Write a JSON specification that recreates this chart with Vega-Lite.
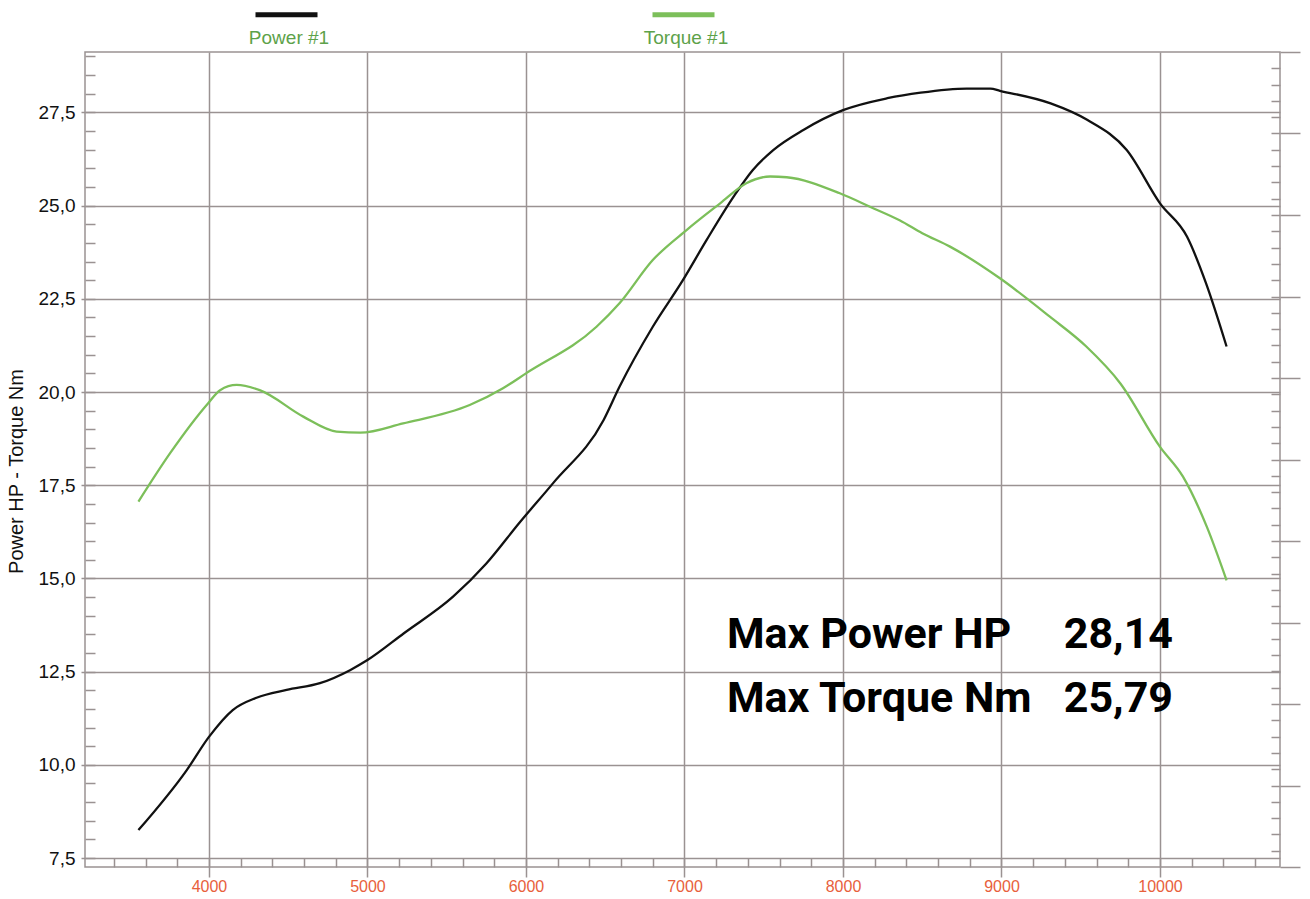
{
  "$schema": "https://vega.github.io/schema/vega-lite/v6.json",
  "width": 1195,
  "height": 815,
  "autosize": "none",
  "padding": {"left": 85, "top": 52, "right": 30, "bottom": 32},
  "background": "white",
  "config": {"view": {"stroke": "#9a9292", "strokeWidth": 1.5}, "font": "Liberation Sans"},
  "data": {"values": [
    {"rpm": 3555, "value": 8.25, "series": "Power #1"},
    {"rpm": 3860, "value": 9.86, "series": "Power #1"},
    {"rpm": 4000, "value": 10.75, "series": "Power #1"},
    {"rpm": 4150, "value": 11.47, "series": "Power #1"},
    {"rpm": 4300, "value": 11.8, "series": "Power #1"},
    {"rpm": 4490, "value": 12.01, "series": "Power #1"},
    {"rpm": 4700, "value": 12.19, "series": "Power #1"},
    {"rpm": 4890, "value": 12.54, "series": "Power #1"},
    {"rpm": 5000, "value": 12.81, "series": "Power #1"},
    {"rpm": 5230, "value": 13.53, "series": "Power #1"},
    {"rpm": 5540, "value": 14.51, "series": "Power #1"},
    {"rpm": 5750, "value": 15.4, "series": "Power #1"},
    {"rpm": 5960, "value": 16.5, "series": "Power #1"},
    {"rpm": 6170, "value": 17.55, "series": "Power #1"},
    {"rpm": 6490, "value": 19.25, "series": "Power #1"},
    {"rpm": 6590, "value": 20.14, "series": "Power #1"},
    {"rpm": 6800, "value": 21.75, "series": "Power #1"},
    {"rpm": 6990, "value": 23.0, "series": "Power #1"},
    {"rpm": 7140, "value": 24.08, "series": "Power #1"},
    {"rpm": 7310, "value": 25.24, "series": "Power #1"},
    {"rpm": 7430, "value": 25.95, "series": "Power #1"},
    {"rpm": 7560, "value": 26.49, "series": "Power #1"},
    {"rpm": 7750, "value": 27.03, "series": "Power #1"},
    {"rpm": 8000, "value": 27.56, "series": "Power #1"},
    {"rpm": 8280, "value": 27.88, "series": "Power #1"},
    {"rpm": 8490, "value": 28.03, "series": "Power #1"},
    {"rpm": 8780, "value": 28.14, "series": "Power #1"},
    {"rpm": 8930, "value": 28.14, "series": "Power #1"},
    {"rpm": 8990, "value": 28.08, "series": "Power #1"},
    {"rpm": 9310, "value": 27.74, "series": "Power #1"},
    {"rpm": 9540, "value": 27.3, "series": "Power #1"},
    {"rpm": 9790, "value": 26.49, "series": "Power #1"},
    {"rpm": 10000, "value": 25.06, "series": "Power #1"},
    {"rpm": 10170, "value": 24.17, "series": "Power #1"},
    {"rpm": 10290, "value": 22.92, "series": "Power #1"},
    {"rpm": 10420, "value": 21.22, "series": "Power #1"},
    {"rpm": 3555, "value": 17.06, "series": "Torque #1"},
    {"rpm": 3755, "value": 18.36, "series": "Torque #1"},
    {"rpm": 3995, "value": 19.7, "series": "Torque #1"},
    {"rpm": 4070, "value": 20.05, "series": "Torque #1"},
    {"rpm": 4175, "value": 20.19, "series": "Torque #1"},
    {"rpm": 4320, "value": 20.05, "series": "Torque #1"},
    {"rpm": 4595, "value": 19.34, "series": "Torque #1"},
    {"rpm": 4805, "value": 18.94, "series": "Torque #1"},
    {"rpm": 4955, "value": 18.91, "series": "Torque #1"},
    {"rpm": 5225, "value": 19.16, "series": "Torque #1"},
    {"rpm": 5645, "value": 19.65, "series": "Torque #1"},
    {"rpm": 5855, "value": 20.1, "series": "Torque #1"},
    {"rpm": 6000, "value": 20.5, "series": "Torque #1"},
    {"rpm": 6445, "value": 21.75, "series": "Torque #1"},
    {"rpm": 6590, "value": 22.38, "series": "Torque #1"},
    {"rpm": 6800, "value": 23.54, "series": "Torque #1"},
    {"rpm": 7015, "value": 24.35, "series": "Torque #1"},
    {"rpm": 7225, "value": 25.06, "series": "Torque #1"},
    {"rpm": 7390, "value": 25.6, "series": "Torque #1"},
    {"rpm": 7540, "value": 25.78, "series": "Torque #1"},
    {"rpm": 7645, "value": 25.76, "series": "Torque #1"},
    {"rpm": 7980, "value": 25.33, "series": "Torque #1"},
    {"rpm": 8170, "value": 24.97, "series": "Torque #1"},
    {"rpm": 8360, "value": 24.6, "series": "Torque #1"},
    {"rpm": 8500, "value": 24.26, "series": "Torque #1"},
    {"rpm": 8675, "value": 23.9, "series": "Torque #1"},
    {"rpm": 8990, "value": 23.05, "series": "Torque #1"},
    {"rpm": 9305, "value": 22.02, "series": "Torque #1"},
    {"rpm": 9535, "value": 21.22, "series": "Torque #1"},
    {"rpm": 9750, "value": 20.23, "series": "Torque #1"},
    {"rpm": 10000, "value": 18.53, "series": "Torque #1"},
    {"rpm": 10145, "value": 17.73, "series": "Torque #1"},
    {"rpm": 10295, "value": 16.39, "series": "Torque #1"},
    {"rpm": 10420, "value": 14.95, "series": "Torque #1"}
  ]},
  "resolve": {"scale": {"y": "independent"}, "axis": {"x": "independent", "y": "independent"}},
  "layer": [
    {
      "layer": [
        {
          "mark": {"type": "line", "interpolate": "monotone", "strokeWidth": 2.3},
          "encoding": {
            "x": {"field": "rpm", "type": "quantitative",
              "scale": {"domain": [3218, 10757], "nice": false, "zero": false},
              "axis": {"orient": "bottom", "values": [4000, 5000, 6000, 7000, 8000, 9000, 10000], "format": "d", "title": null,
                "grid": true, "gridColor": "#9a9292", "gridWidth": 1.5, "domain": false,
                "tickSize": 10, "tickColor": "#9a9292", "tickWidth": 1.5,
                "labelColor": "#e8603c", "labelFontSize": 16, "labelPadding": 1}},
            "y": {"field": "value", "type": "quantitative",
              "scale": {"domain": [7.26, 29.12], "nice": false, "zero": false},
              "axis": {"orient": "left", "values": [7.5, 10, 12.5, 15, 17.5, 20, 22.5, 25, 27.5],
                "labelExpr": "replace(format(datum.value, '.1f'), '.', ',')",
                "title": "Power HP - Torque Nm", "titleFontSize": 20, "titleFontWeight": "normal", "titleColor": "#111111",
                "titleX": -59, "titleY": 419,
                "grid": true, "gridColor": "#9a9292", "gridWidth": 1.5, "domain": false,
                "tickSize": 4, "tickColor": "#9a9292", "tickWidth": 1.5,
                "labelColor": "#111111", "labelFontSize": 19, "labelPadding": 6}},
            "color": {"field": "series", "type": "nominal",
              "scale": {"domain": ["Power #1", "Torque #1"], "range": ["#111111", "#7cbf5a"]},
              "legend": {"orient": "none", "legendX": 168, "legendY": -71, "direction": "horizontal", "title": null,
                "symbolType": "stroke", "symbolSize": 3844, "symbolStrokeWidth": 5,
                "labelColor": "#5da24a", "labelFontSize": 19, "labelAlign": "center", "labelOffset": -31, "labelBaseline": "top",
                "columnPadding": 312,
                "encode": {"labels": {"update": {"dy": {"value": 14}}}}}}
          }
        },
        {
          "data": {"values": [{}]},
          "mark": {"type": "text", "align": "left", "baseline": "alphabetic", "font": "Roboto", "fontWeight": "bold", "fontSize": 43, "color": "#000000"},
          "encoding": {"x": {"datum": 7268, "type": "quantitative"}, "y": {"datum": 13.13, "type": "quantitative"}, "text": {"value": "Max Power HP"}}
        },
        {
          "data": {"values": [{}]},
          "mark": {"type": "text", "align": "left", "baseline": "alphabetic", "font": "Roboto", "fontWeight": "bold", "fontSize": 43, "color": "#000000"},
          "encoding": {"x": {"datum": 7268, "type": "quantitative"}, "y": {"datum": 11.42, "type": "quantitative"}, "text": {"value": "Max Torque Nm"}}
        },
        {
          "data": {"values": [{}]},
          "mark": {"type": "text", "align": "right", "baseline": "alphabetic", "font": "Roboto", "fontWeight": "bold", "fontSize": 43, "color": "#000000"},
          "encoding": {"x": {"datum": 10082, "type": "quantitative"}, "y": {"datum": 13.13, "type": "quantitative"}, "text": {"value": "28,14"}}
        },
        {
          "data": {"values": [{}]},
          "mark": {"type": "text", "align": "right", "baseline": "alphabetic", "font": "Roboto", "fontWeight": "bold", "fontSize": 43, "color": "#000000"},
          "encoding": {"x": {"datum": 10082, "type": "quantitative"}, "y": {"datum": 11.42, "type": "quantitative"}, "text": {"value": "25,79"}}
        }
      ]
    },
    {
      "data": {"values": [{}]},
      "mark": {"type": "point", "opacity": 0},
      "encoding": {
        "x": {"datum": 5000, "type": "quantitative",
          "scale": {"domain": [3218, 10757], "nice": false, "zero": false},
          "axis": {"orient": "bottom", "values": [3400,3600,3800,4000,4200,4400,4600,4800,5000,5200,5400,5600,5800,6000,6200,6400,6600,6800,7000,7200,7400,7600,7800,8000,8200,8400,8600,8800,9000,9200,9400,9600,9800,10000,10200,10400,10600],
            "labels": false, "grid": false, "domain": false, "title": null,
            "tickSize": -9, "tickColor": "#9a9292", "tickWidth": 1.5}},
        "y": {"datum": 10, "type": "quantitative",
          "scale": {"domain": [7.26, 29.12], "nice": false, "zero": false},
          "axis": {"orient": "left", "values": [7.5,8,8.5,9,9.5,10,10.5,11,11.5,12,12.5,13,13.5,14,14.5,15,15.5,16,16.5,17,17.5,18,18.5,19,19.5,20,20.5,21,21.5,22,22.5,23,23.5,24,24.5,25,25.5,26,26.5,27,27.5,28,28.5,29],
            "labels": false, "grid": false, "domain": false, "title": null,
            "tickSize": -10, "tickColor": "#9a9292", "tickWidth": 1.5}}
      }
    },
    {
      "data": {"values": [{}]},
      "mark": {"type": "point", "opacity": 0},
      "encoding": {
        "y": {"datum": 5, "type": "quantitative",
          "scale": {"domain": [0, 10], "nice": false, "zero": false},
          "axis": {"orient": "right", "values": [0,1,2,3,4,5,6,7,8,9,10],
            "labels": false, "grid": false, "domain": false, "title": null,
            "tickSize": 20, "tickColor": "#9a9292", "tickWidth": 1.5}}
      }
    },
    {
      "data": {"values": [{}]},
      "mark": {"type": "point", "opacity": 0},
      "encoding": {
        "y": {"datum": 5, "type": "quantitative",
          "scale": {"domain": [0, 10], "nice": false, "zero": false},
          "axis": {"orient": "right", "values": [0.2,0.4,0.6,0.8,1,1.2,1.4,1.6,1.8,2,2.2,2.4,2.6,2.8,3,3.2,3.4,3.6,3.8,4,4.2,4.4,4.6,4.8,5,5.2,5.4,5.6,5.8,6,6.2,6.4,6.6,6.8,7,7.2,7.4,7.6,7.8,8,8.2,8.4,8.6,8.8,9,9.2,9.4,9.6,9.8],
            "labels": false, "grid": false, "domain": false, "title": null,
            "tickSize": -9, "tickColor": "#9a9292", "tickWidth": 1.5}}
      }
    }
  ]
}
